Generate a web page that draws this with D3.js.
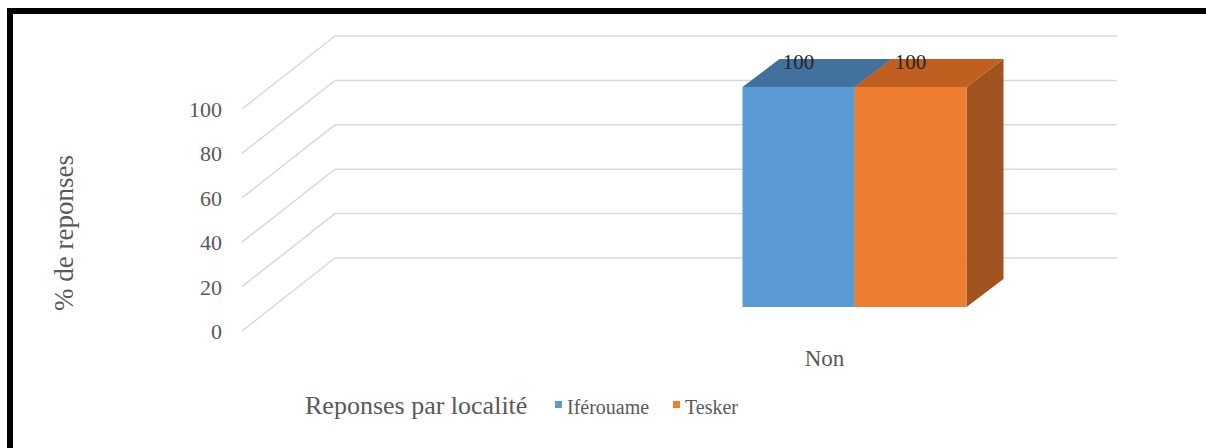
<!DOCTYPE html>
<html>
<head>
<meta charset="utf-8">
<script src="https://cdn.jsdelivr.net/npm/d3@7"></script>
<style>
  body { margin: 0; background: #fff; }
  text { font-family: "Liberation Serif", "Times New Roman", serif; }
</style>
</head>
<body>
<script>
const categories = ["", "Non"];
const seriesNames = ["Iférouame", "Tesker"];
const ifarouame = [null, 100];
const tesker = [null, 100];
const yTicks = [0, 20, 40, 60, 80, 100];

const colors = {
  "Iférouame": { front: "#5b9bd5", top: "#41719c", side: "#3e6e9b" },
  "Tesker": { front: "#ed7d31", top: "#c05f1f", side: "#a0531f" }
};

const width = 1206, height = 448;

const svg = d3.select("body")
  .append("svg")
  .attr("width", width)
  .attr("height", height);

// frame
svg.append("rect")
  .attr("x", 10).attr("y", 11)
  .attr("width", width + 20).attr("height", height + 20)
  .attr("fill", "none")
  .attr("stroke", "#000")
  .attr("stroke-width", 6);

// back wall
const wallLeft = 335, wallRight = 1117;
const depth = { dx: -93, dy: 73 };

const yBack = d3.scaleLinear()
  .domain([0, 100])
  .range([258, 36]);

const grid = svg.append("g").attr("class", "grid");
yTicks.forEach(t => {
  const y = yBack(t);
  grid.append("path")
    .attr("d", `M${wallLeft + depth.dx},${y + depth.dy}L${wallLeft},${y}L${wallRight},${y}`)
    .attr("fill", "none")
    .attr("stroke", "#d9d9d9")
    .attr("stroke-width", 1.5);
});

// tick labels
svg.append("g")
  .selectAll("text")
  .data(yTicks)
  .join("text")
  .attr("x", 222)
  .attr("y", d => yBack(d) + depth.dy + 8)
  .attr("text-anchor", "end")
  .attr("font-size", 22)
  .attr("fill", "#595959")
  .text(d => d);

// bars sit partway into the floor
const barShift = { dx: -67, dy: 49 };

const x0 = d3.scaleBand()
  .domain(categories.map((c, i) => i))
  .range([wallLeft + barShift.dx, wallRight + barShift.dx]);

const x1 = d3.scaleBand()
  .domain(seriesNames)
  .range([0, 224]);

const yFront = d3.scaleLinear()
  .domain([0, 100])
  .range([yBack(0) + barShift.dy, yBack(0) + barShift.dy - 220]);

const barDepth = { dx: 37, dy: -28 };

const rows = [];
categories.forEach((c, i) => {
  [ifarouame, tesker].forEach((arr, s) => {
    if (arr[i] != null) rows.push({ cat: i, series: seriesNames[s], value: arr[i] });
  });
});

const bars = svg.append("g").attr("class", "bars");
rows.forEach(r => {
  const cx = x0(r.cat) + x0.bandwidth() / 2;
  const left = cx - x1.range()[1] / 2 + x1(r.series);
  const right = left + x1.bandwidth();
  const top = yFront(r.value), bottom = yFront(0);
  const c = colors[r.series];
  // side face
  bars.append("path")
    .attr("d", `M${right},${top}L${right + barDepth.dx},${top + barDepth.dy}L${right + barDepth.dx},${bottom + barDepth.dy}L${right},${bottom}Z`)
    .attr("fill", c.side);
  // top face
  bars.append("path")
    .attr("d", `M${left},${top}L${left + barDepth.dx},${top + barDepth.dy}L${right + barDepth.dx},${top + barDepth.dy}L${right},${top}Z`)
    .attr("fill", c.top);
  // front face
  bars.append("rect")
    .attr("x", left).attr("y", top)
    .attr("width", right - left).attr("height", bottom - top)
    .attr("fill", c.front);
  // value label
  bars.append("text")
    .attr("x", (left + right) / 2)
    .attr("y", top + barDepth.dy + 10)
    .attr("text-anchor", "middle")
    .attr("font-size", 21)
    .attr("fill", "#262626")
    .text(r.value);
});

// category labels at front edge
const xFront = d3.scaleBand()
  .domain(categories.map((c, i) => i))
  .range([wallLeft + depth.dx, wallRight + depth.dx]);

svg.append("g")
  .selectAll("text")
  .data(categories)
  .join("text")
  .attr("x", (d, i) => xFront(i) + xFront.bandwidth() / 2 - 4)
  .attr("y", 366)
  .attr("text-anchor", "middle")
  .attr("font-size", 23)
  .attr("fill", "#595959")
  .text(d => d);

// y title
svg.append("text")
  .attr("transform", "translate(73,233) rotate(-90)")
  .attr("text-anchor", "middle")
  .attr("font-size", 27)
  .attr("fill", "#595959")
  .text("% de reponses");

// legend
const legend = svg.append("g").attr("transform", "translate(305,414)");
legend.append("text")
  .attr("font-size", 26)
  .attr("fill", "#595959")
  .text("Reponses par localité");

const legendX = [250, 368];
seriesNames.forEach((s, i) => {
  legend.append("rect")
    .attr("x", legendX[i]).attr("y", -13)
    .attr("width", 7).attr("height", 7)
    .attr("fill", colors[s].front);
  legend.append("text")
    .attr("x", legendX[i] + 12)
    .attr("font-size", 20)
    .attr("fill", "#595959")
    .text(s);
});
</script>
</body>
</html>
